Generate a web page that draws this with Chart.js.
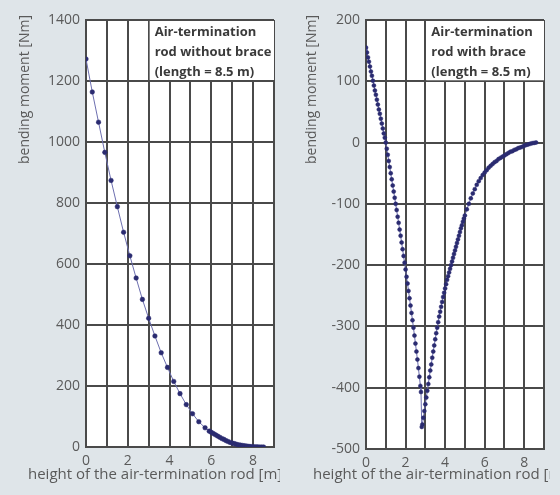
<html><head>
  <title>Bending moment of air-termination rods</title>
  <script src="https://cdn.jsdelivr.net/npm/chart.js"></script>
  <style>
    body {
      margin: 0;
      background: #dfe5e9;
      width: 560px;
      height: 495px;
      overflow: hidden;
      position: relative;
    }
    .panel {
      position: absolute;
      top: 0;
      height: 495px;
    }
    #leftPanel { left: 0; width: 280px; }
    #rightPanel { left: 280px; width: 270px; }
  </style>
</head>
<body>
  <div id="leftPanel" class="panel"><canvas id="noBraceChart"></canvas></div>
  <div id="rightPanel" class="panel"><canvas id="braceChart"></canvas></div>

  <script>
    // rod without brace (left)
    const noBraceX = [0, 0.3, 0.6, 0.9, 1.2, 1.5, 1.8, 2.1, 2.4, 2.7, 3.0, 3.3, 3.6, 3.9, 4.2, 4.5, 4.8, 5.1, 5.4, 5.7,
      5.9, 6.0, 6.1, 6.2, 6.3, 6.4, 6.5, 6.6, 6.7, 6.8, 6.9, 7.0, 7.1, 7.2, 7.3, 7.4, 7.5, 7.6, 7.7, 7.8, 7.9, 8.0, 8.1, 8.2, 8.3, 8.4, 8.5];
    const noBraceY = [1272, 1164, 1065, 966, 874, 788, 704, 627, 554, 484, 422, 364, 309, 261, 215, 175, 139, 109, 83, 63,
      52, 48, 44, 40, 36, 32, 28, 25, 21, 18, 15, 13, 11, 9, 7, 6, 5, 4, 3, 2, 1.5, 1, 0.6, 0.3, 0.1, 0, 0];

    // rod with brace (right)
    const braceX = [0, 0.05, 0.1, 0.15, 0.2, 0.25, 0.3, 0.35, 0.4, 0.45, 0.5, 0.55, 0.6, 0.65, 0.7, 0.75, 0.8, 0.85, 0.9, 0.95,
      1.0, 1.05, 1.1, 1.15, 1.2, 1.25, 1.3, 1.35, 1.4, 1.45, 1.5, 1.55, 1.6, 1.65, 1.7, 1.75, 1.8, 1.85, 1.9, 1.95,
      2.0, 2.05, 2.1, 2.15, 2.2, 2.25, 2.3, 2.35, 2.4, 2.45, 2.5, 2.55, 2.6, 2.65, 2.7, 2.75, 2.78,
      2.82, 2.85, 2.9, 2.95, 3.0, 3.05, 3.1, 3.15, 3.2, 3.25, 3.3, 3.35, 3.4, 3.45, 3.5, 3.55, 3.6, 3.65, 3.7, 3.75,
      3.8, 3.85, 3.9, 3.95, 4.0, 4.05, 4.1, 4.15, 4.2, 4.25, 4.3, 4.35, 4.4, 4.45, 4.5, 4.55, 4.6, 4.65, 4.7, 4.75,
      4.8, 4.85, 4.9, 4.95, 5.0, 5.1, 5.2, 5.3, 5.4, 5.5, 5.6, 5.7, 5.8, 5.9, 6.0, 6.1, 6.2, 6.3, 6.4, 6.5, 6.6,
      6.7, 6.8, 6.9, 7.0, 7.1, 7.2, 7.3, 7.4, 7.5, 7.6, 7.7, 7.8, 7.9, 8.0, 8.1, 8.2, 8.3, 8.4, 8.5, 8.6];
    const braceY = [155, 147, 139, 132, 124, 116, 109, 101, 93, 85, 78, 70, 62, 54, 47, 39, 31, 23, 15, 8,
      0, -10, -20, -30, -40, -50, -60, -70, -80, -90, -100, -110, -121, -131, -142, -152, -163, -174, -185, -196,
      -207, -219, -230, -242, -254, -266, -278, -290, -302, -315, -328, -341, -354, -368, -382, -397, -407,
      -464, -460, -449, -438, -427, -416, -405, -394, -383, -372, -362, -351, -341, -331, -321, -311, -302, -293, -284, -276,
      -268, -260, -252, -245, -238, -231, -224, -218, -212, -206, -200, -194, -188, -182, -176, -170, -164, -158, -152, -146,
      -140, -135, -129, -124, -119, -109, -100, -91, -83, -76, -69, -63, -58, -53, -49, -45, -41, -38, -35, -32, -30,
      -27, -25, -23, -21, -19, -17, -15, -14, -12, -11, -9, -8, -7, -5, -4, -3, -2, -1, -0.5, 0];

    const xLabels = [0, 2, 4, 6, 8];
    const xTitle = 'height of the air-termination rod [m]';
    const yTitle = 'bending moment [Nm]';

    const gridColor = '#4a4a4a';
    const textColor = '#5a5a5a';
    const fontFamily = "'Open Sans', 'DejaVu Sans', sans-serif";

    // white label box + axis titles
    const decorPlugin = {
      id: 'decor',
      beforeDatasetsDraw(chart, args, opts) {
        const ctx = chart.ctx;
        const area = chart.chartArea;
        const x0 = chart.scales.x.getPixelForValue(3) + 1;
        const y1 = chart.scales.y.getPixelForValue(opts.boxBottom) - 1;
        ctx.save();
        ctx.fillStyle = '#ffffff';
        ctx.fillRect(x0, area.top + 1, area.right - x0, y1 - area.top - 1);
        ctx.fillStyle = '#3a3a3a';
        ctx.font = 'bold 13px ' + fontFamily;
        ctx.textBaseline = 'middle';
        opts.lines.forEach((t, i) => ctx.fillText(t, x0 + 5, area.top + 12 + i * 20));
        ctx.restore();
      },
      afterDraw(chart, args, opts) {
        const ctx = chart.ctx;
        ctx.save();
        ctx.fillStyle = textColor;
        ctx.font = '15px ' + fontFamily;
        ctx.textBaseline = 'middle';
        ctx.textAlign = 'left';
        ctx.fillText(xTitle, opts.xTitleLeft, 475);
        ctx.font = '14px ' + fontFamily;
        ctx.translate(opts.yTitleX, 15);
        ctx.rotate(-Math.PI / 2);
        ctx.textAlign = 'right';
        ctx.fillText(yTitle, 0, 0);
        ctx.restore();
      }
    };

    function makeChart(id, xs, ys, yMin, yMax, yStep, radius, decor, bottomPad) {
      const points = xs.map((x, i) => ({ x: x, y: ys[i] }));
      return new Chart(document.getElementById(id), {
        type: 'scatter',
        data: {
          datasets: [{
            data: points,
            showLine: true,
            borderColor: '#6d6fb0',
            borderWidth: 1,
            pointRadius: radius,
            pointBackgroundColor: '#2a2b70',
            pointBorderColor: '#2a2b70',
            pointBorderWidth: 0.5
          }]
        },
        options: {
          responsive: true,
          maintainAspectRatio: false,
          animation: false,
          layout: { padding: { top: 20, right: decor.rightPad, left: 0, bottom: 0 } },
          plugins: {
            legend: { display: false },
            tooltip: { enabled: false },
            decor: decor
          },
          scales: {
            x: {
              type: 'linear',
              min: 0,
              max: 9,
              afterFit(scale) { scale.height = bottomPad; },
              ticks: {
                stepSize: 1,
                autoSkip: false,
                maxRotation: 0,
                padding: 6,
                color: textColor,
                font: { family: fontFamily, size: 14 },
                callback: (v) => xLabels.includes(v) ? String(v) : ''
              },
              grid: { color: gridColor, lineWidth: 2, drawTicks: false },
              border: { color: gridColor, width: 2 }
            },
            y: {
              min: yMin,
              max: yMax,
              afterFit(scale) { scale.width = 86; },
              ticks: {
                stepSize: yStep,
                padding: 6,
                color: textColor,
                font: { family: fontFamily, size: 14 },
                callback: (v) => String(v)
              },
              grid: { color: gridColor, lineWidth: 2, drawTicks: false },
              border: { color: gridColor, width: 2 }
            }
          }
        },
        plugins: [{
          id: 'whiteArea',
          beforeDraw(chart) {
            const a = chart.chartArea;
            chart.ctx.save();
            chart.ctx.fillStyle = '#ffffff';
            chart.ctx.fillRect(a.left, a.top, a.right - a.left, a.bottom - a.top);
            chart.ctx.restore();
          }
        }, decorPlugin]
      });
    }

    makeChart('noBraceChart', noBraceX, noBraceY, 0, 1400, 200, 2.3, {
      boxBottom: 1200,
      lines: ['Air-termination', 'rod without brace', '(length = 8.5 m)'],
      xTitleLeft: 28,
      yTitleX: 25,
      rightPad: 1
    }, 48);

    makeChart('braceChart', braceX, braceY, -500, 200, 100, 2, {
      boxBottom: 100,
      lines: ['Air-termination', 'rod with brace', '(length = 8.5 m)'],
      xTitleLeft: 33,
      yTitleX: 32,
      rightPad: 2
    }, 46);
  </script>
</body></html>
